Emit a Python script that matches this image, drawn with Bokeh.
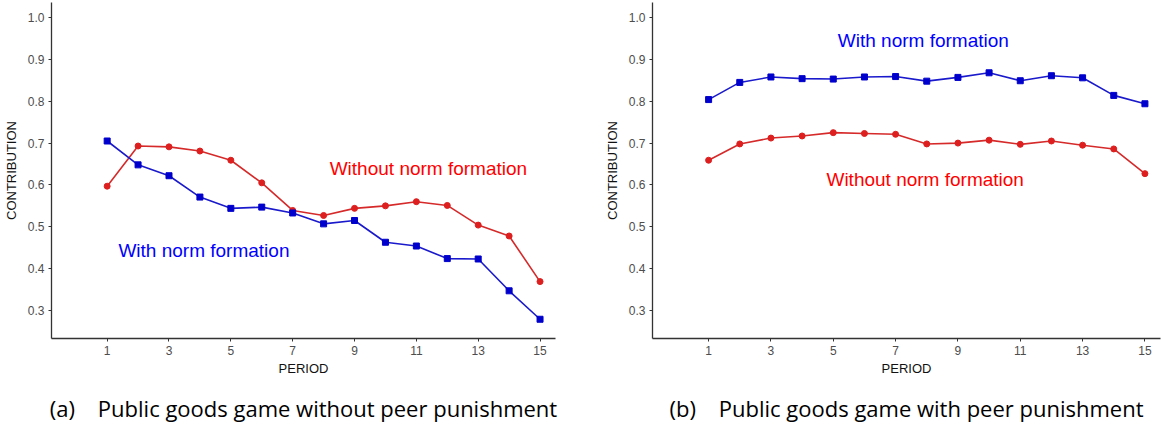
from bokeh.plotting import figure
from bokeh.layouts import row
from bokeh.models import Range1d, Title, FixedTicker, Label, NumeralTickFormatter
from bokeh.embed import file_html
from bokeh.resources import INLINE

periods = list(range(1, 16))
x_ticks = [1, 3, 5, 7, 9, 11, 13, 15]
y_ticks = [0.3, 0.4, 0.5, 0.6, 0.7, 0.8, 0.9, 1.0]

# (a) without peer punishment
a_with_norm = [0.705, 0.648, 0.622, 0.571, 0.544, 0.547, 0.533, 0.507, 0.515,
               0.463, 0.454, 0.424, 0.423, 0.347, 0.279]
a_without_norm = [0.597, 0.693, 0.691, 0.681, 0.659, 0.605, 0.539, 0.527, 0.544,
                  0.550, 0.560, 0.551, 0.504, 0.478, 0.369]

# (b) with peer punishment
b_with_norm = [0.804, 0.845, 0.858, 0.854, 0.853, 0.858, 0.859, 0.848, 0.857,
               0.868, 0.849, 0.861, 0.856, 0.814, 0.794]
b_without_norm = [0.659, 0.698, 0.712, 0.717, 0.725, 0.723, 0.721, 0.698, 0.700,
                  0.707, 0.697, 0.705, 0.695, 0.686, 0.627]

captions = ["(a)\u00a0\u00a0\u00a0\u00a0Public goods game without peer punishment",
            "(b)\u00a0\u00a0\u00a0\u00a0Public goods game with peer punishment"]
label_with = "With norm formation"
label_without = "Without norm formation"

BLUE_LINE = "#1a1acc"
BLUE_PT = "#0000cc"
RED_LINE = "#d62a2a"
RED_PT = "#dd1f1f"


def make_panel(with_vals, without_vals, caption, with_pos, without_pos,
               width, left_border, right_border):
    p = figure(width=width, height=425, output_backend="svg", toolbar_location=None,
               x_range=Range1d(-0.8, 15.5), y_range=Range1d(0.233, 1.036),
               min_border_left=left_border, min_border_right=right_border,
               min_border_top=2, min_border_bottom=0)
    p.outline_line_color = None
    p.xgrid.visible = False
    p.ygrid.visible = False
    p.background_fill_color = "white"
    p.border_fill_color = "white"

    p.line(periods, without_vals, line_color=RED_LINE, line_width=1.6)
    p.scatter(periods, without_vals, marker="circle", size=6,
              fill_color=RED_PT, line_color=RED_PT)
    p.line(periods, with_vals, line_color=BLUE_LINE, line_width=1.6)
    p.scatter(periods, with_vals, marker="square", size=6,
              fill_color=BLUE_PT, line_color=BLUE_PT)

    for ax in (p.xaxis[0], p.yaxis[0]):
        ax.axis_line_color = "#333333"
        ax.axis_line_width = 1.3
        ax.major_tick_line_color = "#333333"
        ax.major_tick_in = 0
        ax.major_tick_out = 3
        ax.minor_tick_line_color = None
        ax.major_label_text_color = "#4d4d4d"
        ax.major_label_text_font = "Liberation Sans"
        ax.major_label_text_font_size = "12px"
        ax.axis_label_text_font = "Liberation Sans"
        ax.axis_label_text_font_size = "13px"
        ax.axis_label_text_font_style = "normal"
        ax.axis_label_text_color = "#111111"

    p.xaxis[0].ticker = FixedTicker(ticks=x_ticks)
    p.yaxis[0].ticker = FixedTicker(ticks=y_ticks)
    p.yaxis[0].formatter = NumeralTickFormatter(format="0.0")
    p.xaxis[0].axis_label = "PERIOD"
    p.yaxis[0].axis_label = "CONTRIBUTION"
    p.xaxis[0].major_label_standoff = 4
    p.xaxis[0].axis_label_standoff = 3
    p.yaxis[0].major_label_standoff = 4
    p.yaxis[0].axis_label_standoff = 6

    p.add_layout(Label(x=with_pos[0], y=with_pos[1], text=label_with,
                       text_color="#0000ff", text_font="Liberation Sans",
                       text_font_size="19px", text_align="center",
                       text_baseline="middle"))
    p.add_layout(Label(x=without_pos[0], y=without_pos[1], text=label_without,
                       text_color="#ff0000", text_font="Liberation Sans",
                       text_font_size="19px", text_align="center",
                       text_baseline="middle"))

    spacer = Title(text=" ", text_font_size="1px", standoff=6)
    p.add_layout(spacer, "below")
    t = Title(text=caption, align="center", text_font="Open Sans",
              text_font_size="22px", text_font_style="normal",
              text_color="#000000", standoff=6)
    p.add_layout(t, "below")
    return p


p1 = make_panel(a_with_norm, a_without_norm, captions[0],
                (4.13, 0.443), (11.39, 0.639), 590, 45, 35)
p2 = make_panel(b_with_norm, b_without_norm, captions[1],
                (7.89, 0.945), (7.95, 0.613), 575, 62, 5)

layout = row(p1, p2)
open("out.html", "w").write(file_html(layout, INLINE))
